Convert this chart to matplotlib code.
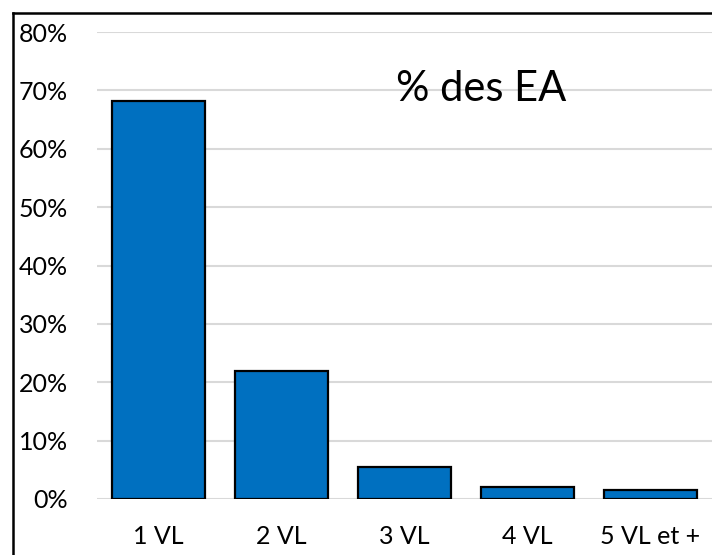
import matplotlib
matplotlib.use("Agg")
import matplotlib.pyplot as plt
from matplotlib.ticker import PercentFormatter
from matplotlib.lines import Line2D

plt.rcParams['font.family'] = ['Lato', 'DejaVu Sans']

categories = ["1 VL", "2 VL", "3 VL", "4 VL", "5 VL et +"]
values = [68.2, 22.0, 5.5, 2.1, 1.6]
yticks = [0, 10, 20, 30, 40, 50, 60, 70, 80]
title = "% des EA"

fig = plt.figure(figsize=(7.12, 5.55), dpi=100)
ax = fig.add_axes([97/712, 56/555, 615/712, 467/555])

x = range(len(categories))
ax.bar(x, values, width=0.76, color="#0070C0", edgecolor="black", linewidth=1.6, zorder=3)

ax.set_xlim(-0.5, len(categories) - 0.5)
ax.set_ylim(0, 80)
ax.set_yticks(yticks)
ax.yaxis.set_major_formatter(PercentFormatter(decimals=0))
ax.set_xticks(list(x))
ax.set_xticklabels(categories)
ax.grid(axis="y", color="#d9d9d9", linewidth=1.5, zorder=0)
ax.set_axisbelow(True)
for s in ax.spines.values():
    s.set_visible(False)
ax.tick_params(axis="both", length=0, labelsize=18, colors="black")
ax.tick_params(axis="y", pad=21)
ax.tick_params(axis="x", pad=19)

ax.text(0.624, 0.878, title, transform=ax.transAxes, ha="center", va="center",
        fontsize=30, color="black")

# outer frame (left and top edges visible)
fig.add_artist(Line2D([13/712, 13/712], [0, 1 - 12.5/555], transform=fig.transFigure,
                      color="black", linewidth=1.8))
fig.add_artist(Line2D([13/712, 1], [1 - 12.5/555, 1 - 12.5/555], transform=fig.transFigure,
                      color="black", linewidth=1.8))

fig.savefig("out.png", dpi=100)
